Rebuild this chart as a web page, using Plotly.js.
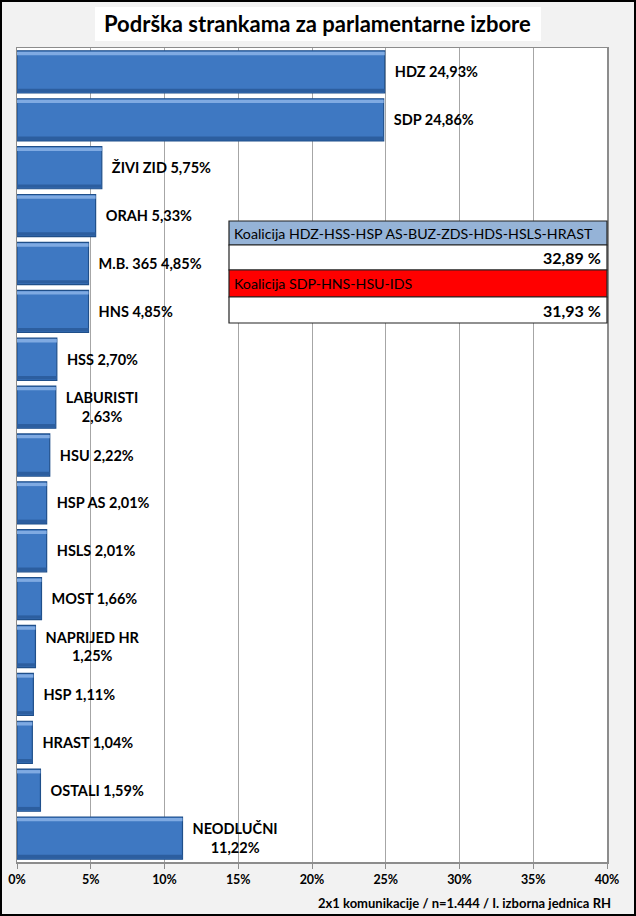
<!DOCTYPE html>
<html>
<head>
<meta charset="utf-8">
<script src="https://cdn.plot.ly/plotly-3.0.1.min.js"></script>
<style>
html,body{margin:0;padding:0;background:#f2f2f2;}
#wrap{position:relative;width:636px;height:916px;}
#chart{width:636px;height:916px;}
#frame{position:absolute;left:0;top:0;width:636px;height:916px;box-sizing:border-box;border:2px solid #000;pointer-events:none;}
</style>
</head>
<body>
<div id="wrap"><div id="chart"></div><div id="frame"></div></div>
<script>
const parties = ["HDZ","SDP","ŽIVI ZID","ORAH","M.B. 365","HNS","HSS","LABURISTI","HSU","HSP AS","HSLS","MOST","NAPRIJED HR","HSP","HRAST","OSTALI","NEODLUČNI"];
const values = [24.93,24.86,5.75,5.33,4.85,4.85,2.70,2.63,2.22,2.01,2.01,1.66,1.25,1.11,1.04,1.59,11.22];
const twoLine = ["LABURISTI","NAPRIJED HR","NEODLUČNI"];
const coalitionNames = ["Koalicija HDZ-HSS-HSP AS-BUZ-ZDS-HDS-HSLS-HRAST","Koalicija SDP-HNS-HSU-IDS"];
const coalitionValues = ["32,89 %","31,93 %"];
const coalitionColors = ["#95b3d7","#ff0000"];
const xTicks = [0,5,10,15,20,25,30,35,40];
const xTickLabels = ["0%","5%","10%","15%","20%","25%","30%","35%","40%"];
const titleText = "Podrška strankama za parlamentarne izbore";
const sourceText = "2x1 komunikacije / n=1.444 / I. izborna jednica RH";

const fmt = v => v.toFixed(2).replace(".", ",") + "%";
const pad = "\u00a0\u00a0";
const labels = parties.map((p,i) => twoLine.includes(p)
  ? pad + p + "<br>" + pad + fmt(values[i])
  : pad + p + " " + fmt(values[i]));

const F = "Lato, 'Open Sans', sans-serif";

const base = {
  type: "bar", orientation: "h", y: parties, x: values,
  width: 0.88, offset: -0.44,
  text: labels, textposition: "outside", cliponaxis: false,
  textfont: {family: F, size: 14.5, color: "#000", weight: "bold"},
  marker: {color: "#3e78c2", line: {color: "#1f4f8a", width: 1.2}},
  hoverinfo: "none"
};
const topHi = {
  type: "bar", orientation: "h", y: parties, x: values,
  width: 0.07, offset: -0.42, textposition: "none",
  marker: {color: "#7faae2", line: {width: 0}}, hoverinfo: "none"
};
const botSh = {
  type: "bar", orientation: "h", y: parties, x: values,
  width: 0.07, offset: 0.35, textposition: "none",
  marker: {color: "#2c5e9f", line: {width: 0}}, hoverinfo: "none"
};

// plot area pixel geometry
const L = 17, R = 607, T = 48, B = 862;
const px = x => (x - L) / (R - L);
const py = y => (B - y) / (B - T);

const shapes = [];
const annotations = [];
const boxX0 = 229, boxX1 = 607;
const rows = [[221,245,270],[270,297,323]];
rows.forEach((r,i) => {
  shapes.push({type:"rect", xref:"paper", yref:"paper", x0:px(boxX0), x1:px(boxX1), y0:py(r[1]), y1:py(r[0]), fillcolor:coalitionColors[i], line:{color:"#222", width:1.2}, layer:"above"});
  shapes.push({type:"rect", xref:"paper", yref:"paper", x0:px(boxX0), x1:px(boxX1), y0:py(r[2]), y1:py(r[1]), fillcolor:"#ffffff", line:{color:"#222", width:1.2}, layer:"above"});
  annotations.push({xref:"paper", yref:"paper", x:px(boxX0+3), y:py((r[0]+r[1])/2), xanchor:"left", yanchor:"middle", showarrow:false, text:coalitionNames[i], font:{family:F, size:14.2, color:"#000"}});
  annotations.push({xref:"paper", yref:"paper", x:px(boxX1-4), y:py((r[1]+r[2])/2), xanchor:"right", yanchor:"middle", showarrow:false, text:coalitionValues[i], font:{family:F, size:16, color:"#000", weight:"bold"}});
});

// title box
shapes.push({type:"rect", xref:"paper", yref:"paper", x0:px(95), x1:px(541), y0:py(41), y1:py(7), fillcolor:"#ffffff", line:{width:0}, layer:"below"});
annotations.push({xref:"paper", yref:"paper", x:px(318), y:py(24), xanchor:"center", yanchor:"middle", showarrow:false, text:titleText, font:{family:F, size:22, color:"#000", weight:"bold"}});
annotations.push({xref:"paper", yref:"paper", x:px(613), y:py(903), xanchor:"right", yanchor:"middle", showarrow:false, text:sourceText, font:{family:F, size:13, color:"#000", weight:"bold"}});

const layout = {
  width: 636, height: 916,
  margin: {l: L, r: 636 - R, t: T, b: 916 - B},
  paper_bgcolor: "#f2f2f2",
  plot_bgcolor: "#ffffff",
  showlegend: false,
  barmode: "overlay",
  xaxis: {
    range: [0, 40], tickvals: xTicks, ticktext: xTickLabels,
    showgrid: true, gridcolor: "#a6a6a6", gridwidth: 1,
    showline: true, linecolor: "#8c8c8c", linewidth: 1.5, mirror: true,
    ticks: "outside", ticklen: 5, tickcolor: "#8c8c8c",
    tickfont: {family: F, size: 12.5, color: "#000", weight: "bold"},
    zeroline: false, fixedrange: true
  },
  yaxis: {
    autorange: "reversed", showticklabels: false, ticks: "",
    showline: true, linecolor: "#8c8c8c", linewidth: 1.5, mirror: true,
    showgrid: false, fixedrange: true
  },
  shapes: shapes,
  annotations: annotations
};

Plotly.newPlot("chart", [base, topHi, botSh], layout, {displayModeBar: false, staticPlot: true});
</script>
</body>
</html>
